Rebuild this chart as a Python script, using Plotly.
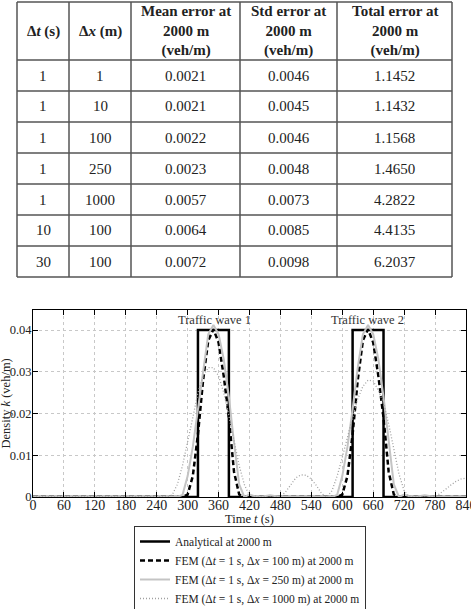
import plotly.graph_objects as go

W, H = 471, 609
FONT = "Liberation Serif"

# ---- table data ----
col_headers = ["<b>Δ<i>t</i> (s)</b>", "<b>Δ<i>x</i> (m)</b>",
               "<b>Mean error at<br>2000 m<br>(veh/m)</b>",
               "<b>Std error at<br>2000 m<br>(veh/m)</b>",
               "<b>Total error at<br>2000 m<br>(veh/m)</b>"]
dt_vals = ["1", "1", "1", "1", "1", "10", "30"]
dx_vals = ["1", "10", "100", "250", "1000", "100", "100"]
mean_err = ["0.0021", "0.0021", "0.0022", "0.0023", "0.0057", "0.0064", "0.0072"]
std_err = ["0.0046", "0.0045", "0.0046", "0.0048", "0.0073", "0.0085", "0.0098"]
total_err = ["1.1452", "1.1432", "1.1568", "1.4650", "4.2822", "4.4135", "6.2037"]

# ---- chart data ----
t_ana = [0, 320, 320, 380, 380, 620, 620, 680, 680, 840]
k_ana = [0, 0, 0.04, 0.04, 0, 0, 0.04, 0.04, 0, 0]

t_100 = [0, 290, 300, 310, 320, 330, 340, 350, 360, 370, 380, 390, 400, 410, 420, 430, 440,
         460, 470, 480, 590, 600, 610, 620, 630, 640, 650, 660, 670, 680, 690, 700, 710,
         720, 730, 740, 760, 770, 780, 840]
k_100 = [0, 0, 0.0006, 0.005, 0.015, 0.028, 0.0375, 0.0402, 0.037, 0.029, 0.019, 0.006, 0.0006, 0, 0.0003, 0, 0,
         0.0002, 0, 0, 0, 0.0006, 0.005, 0.015, 0.028, 0.0375, 0.0402, 0.037, 0.029, 0.019, 0.006, 0.0006, 0,
         0.0003, 0, 0, 0.0002, 0, 0, 0]

t_250 = [0, 280, 290, 300, 310, 320, 330, 340, 350, 360, 370, 380, 390, 400, 410, 420, 430, 440,
         460, 470, 480, 580, 590, 600, 610, 620, 630, 640, 650, 660, 670, 680, 690, 700, 710,
         720, 730, 740, 760, 770, 780, 840]
k_250 = [0, 0, 0.0005, 0.005, 0.012, 0.021, 0.031, 0.039, 0.0412, 0.039, 0.033, 0.024, 0.013, 0.003, 0, 0.0006, 0.0002, 0,
         0.0004, 0.0002, 0, 0, 0.0005, 0.005, 0.012, 0.021, 0.031, 0.039, 0.0412, 0.039, 0.033, 0.024, 0.013, 0.003, 0,
         0.0006, 0.0002, 0, 0.0004, 0.0002, 0, 0]

t_1000 = [0, 260, 270, 280, 290, 300, 310, 320, 330, 340, 350, 360, 370, 380, 390, 400, 410, 420, 430,
          480, 490, 500, 510, 520, 530, 540, 550, 560, 570,
          580, 590, 600, 610, 620, 630, 640, 650, 660, 670, 680, 690, 700, 710, 720, 730,
          780, 790, 800, 810, 820, 830, 840]
k_1000 = [0, 0, 0.0005, 0.003, 0.0075, 0.013, 0.019, 0.025, 0.029, 0.031, 0.031, 0.029, 0.025, 0.0195, 0.0135, 0.0075, 0.003, 0.0003, 0,
          0, 0.0012, 0.003, 0.0046, 0.0053, 0.0052, 0.0043, 0.0027, 0.0008, 0,
          0.0015, 0.005, 0.0095, 0.0145, 0.019, 0.0235, 0.0265, 0.028, 0.0278, 0.0255, 0.0225, 0.0175, 0.0115, 0.0055, 0.0015, 0,
          0, 0.0008, 0.0018, 0.0028, 0.0037, 0.0043, 0.0045]

x_ticks = list(range(0, 841, 60))
y_ticks = [0, 0.01, 0.02, 0.03, 0.04]
y_ticklabels = ["0", "0.01", "0.02", "0.03", "0.04"]
x_title = "Time <i>t</i> (s)"
y_title = "Density <i>k</i> (veh/m)"
wave_labels = ["Traffic wave 1", "Traffic wave 2"]
wave_label_t = [353, 648]
wave_label_k = 0.0424

fig = go.Figure()

px = lambda x: x / W
py = lambda y: 1 - y / H

# ---- table drawn as grid lines + text (pixel geometry) ----
col_w = [52, 62, 109, 97, 115]
tbl_left, tbl_top, head_h, row_h = 17, 2, 58, 31
col_x = [tbl_left]
for w in col_w:
    col_x.append(col_x[-1] + w)
columns = [dt_vals, dx_vals, mean_err, std_err, total_err]
n_rows = len(dt_vals)
row_y = [tbl_top, tbl_top + head_h] + [tbl_top + head_h + row_h * (i + 1) for i in range(n_rows)]

LINE = dict(color="#555555", width=1.5)
for yy in row_y:
    fig.add_shape(type="line", xref="paper", yref="paper",
                  x0=px(col_x[0]), x1=px(col_x[-1]), y0=py(yy), y1=py(yy), line=LINE)
for xx in col_x:
    fig.add_shape(type="line", xref="paper", yref="paper",
                  x0=px(xx), x1=px(xx), y0=py(row_y[0]), y1=py(row_y[-1]), line=LINE)
for c, head in enumerate(col_headers):
    cx = (col_x[c] + col_x[c + 1]) / 2
    fig.add_annotation(xref="paper", yref="paper", x=px(cx), y=py((row_y[0] + row_y[1]) / 2),
                       text=head, showarrow=False, xanchor="center", yanchor="middle",
                       font=dict(family=FONT, size=15, color="#222222"))
    for r, val in enumerate(columns[c]):
        cy = (row_y[r + 1] + row_y[r + 2]) / 2
        fig.add_annotation(xref="paper", yref="paper", x=px(cx), y=py(cy),
                           text=val, showarrow=False, xanchor="center", yanchor="middle",
                           font=dict(family=FONT, size=15, color="#222222"))

# ---- chart ----
fig.add_trace(go.Scatter(x=t_ana, y=k_ana, mode="lines", name="Analytical at 2000 m",
                         line=dict(color="black", width=2.5)))
fig.add_trace(go.Scatter(x=t_100, y=k_100, mode="lines",
                         name="FEM (Δ<i>t</i> = 1 s, Δ<i>x</i> = 100 m) at 2000 m",
                         line=dict(color="black", width=2.5, dash="5px,3px")))
fig.add_trace(go.Scatter(x=t_250, y=k_250, mode="lines",
                         name="FEM (Δ<i>t</i> = 1 s, Δ<i>x</i> = 250 m) at 2000 m",
                         line=dict(color="#c4c4c4", width=2)))
fig.add_trace(go.Scatter(x=t_1000, y=k_1000, mode="lines",
                         name="FEM (Δ<i>t</i> = 1 s, Δ<i>x</i> = 1000 m) at 2000 m",
                         line=dict(color="#a0a0a0", width=1.3, dash="1px,2px")))

for lab, tx in zip(wave_labels, wave_label_t):
    fig.add_annotation(x=tx, y=wave_label_k, text=lab, showarrow=False,
                       font=dict(family=FONT, size=12.5, color="#333333"), xref="x", yref="y")

plot_l, plot_r, plot_t, plot_b = 33, 466, 310, 497
fig.add_annotation(xref="paper", yref="paper", x=px((plot_l + plot_r) / 2), y=py(519),
                   text=x_title, showarrow=False, xanchor="center", yanchor="middle",
                   font=dict(family=FONT, size=12.5, color="#222222"))
fig.add_annotation(xref="paper", yref="paper", x=px(5), y=py((plot_t + plot_b) / 2),
                   text=y_title, showarrow=False, xanchor="center", yanchor="middle",
                   textangle=-90, font=dict(family=FONT, size=12.5, color="#222222"))

AX = dict(showline=True, linecolor="black", linewidth=1, mirror="ticks",
          ticks="inside", ticklen=5, tickcolor="black",
          showgrid=True, gridcolor="#c8c8c8", griddash="dot", gridwidth=1,
          zeroline=False, automargin=False)

fig.update_layout(
    width=W, height=H, margin=dict(l=0, r=0, t=0, b=0, autoexpand=False),
    paper_bgcolor="white", plot_bgcolor="white",
    font=dict(family=FONT, size=13, color="#222222"),
    showlegend=True,
    legend=dict(x=134 / W, y=1 - 526 / H, xanchor="left", yanchor="top",
                bordercolor="#333333", borderwidth=1, bgcolor="white",
                font=dict(family=FONT, size=11.5, color="#222222"),
                tracegroupgap=0, itemwidth=30),
    xaxis=dict(domain=[px(plot_l), px(plot_r)], range=[0, 840], tickvals=x_ticks,
               ticklabeloverflow="allow", ticklabelstandoff=-5,
               tickfont=dict(family=FONT, size=14, color="#222222"),
               anchor="y", **AX),
    yaxis=dict(domain=[py(plot_b), py(plot_t)], range=[0, 0.0448], tickvals=y_ticks,
               ticktext=y_ticklabels, ticklabelstandoff=-2,
               tickfont=dict(family=FONT, size=12.5, color="#222222"),
               anchor="x", **AX),
)

fig.write_html("out.html")
